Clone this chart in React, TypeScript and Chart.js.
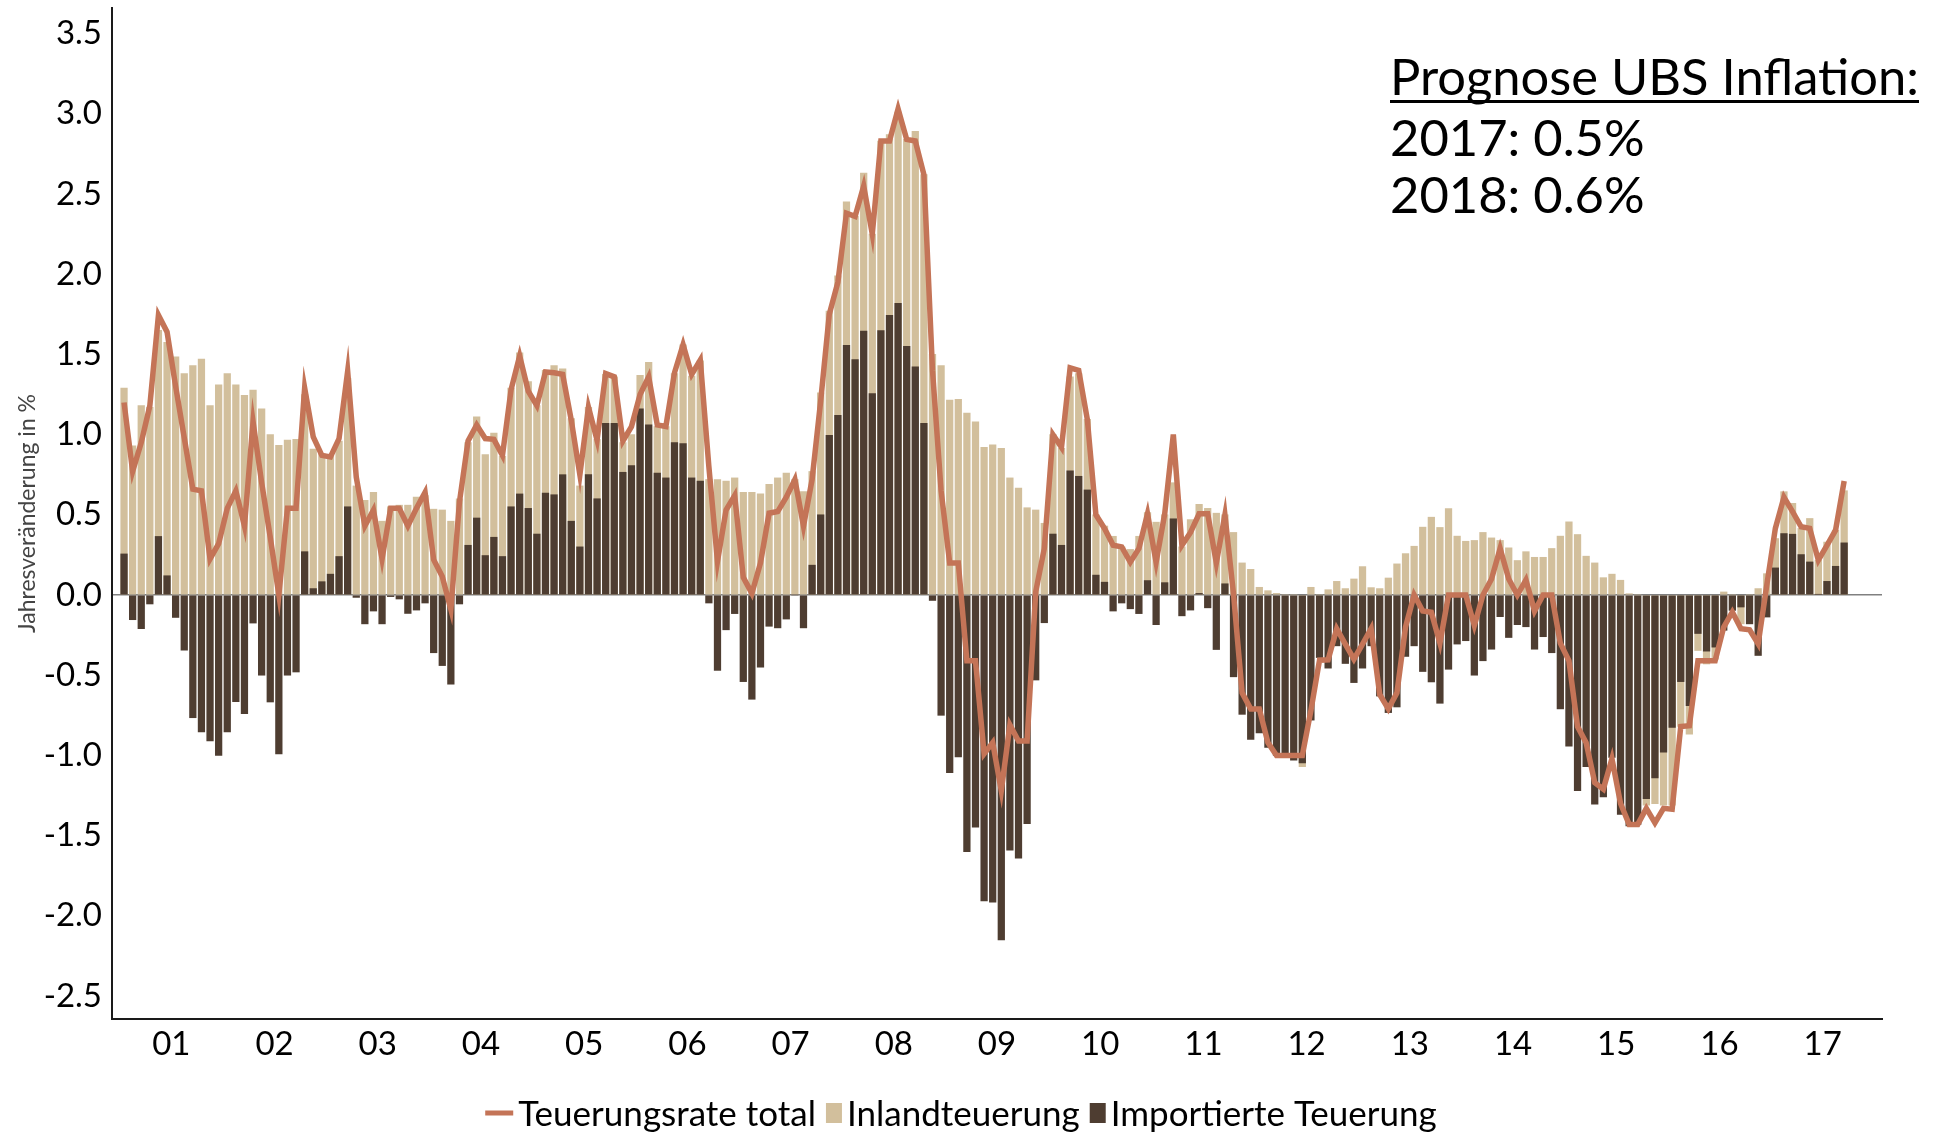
import React, { useEffect, useRef } from "react";
import { Chart, registerables } from "chart.js";

Chart.register(...registerables);

// ---------- data (monthly, Jan 2001 – Sep 2017) ----------
const yearLabels = ["01", "02", "03", "04", "05", "06", "07", "08", "09", "10", "11", "12", "13", "14", "15", "16", "17"];

const yTicks = [-2.5, -2.0, -1.5, -1.0, -0.5, 0.0, 0.5, 1.0, 1.5, 2.0, 2.5, 3.0, 3.5];

const totalRate = [
  1.2, 0.77, 0.95, 1.18, 1.745, 1.64, 1.3, 0.98, 0.66, 0.65, 0.225, 0.32,
  0.54, 0.65, 0.43, 1.08, 0.7, 0.36, 0.0, 0.54, 0.54, 1.29, 0.985, 0.87,
  0.86, 0.975, 1.395, 0.735, 0.43, 0.53, 0.225, 0.54, 0.54, 0.43, 0.54, 0.64,
  0.22, 0.115, -0.09, 0.58, 0.96, 1.06, 0.975, 0.97, 0.87, 1.28, 1.49, 1.27,
  1.18, 1.39, 1.385, 1.375, 1.09, 0.75, 1.17, 0.965, 1.38, 1.36, 0.96, 1.05,
  1.25, 1.36, 1.06, 1.05, 1.385, 1.56, 1.375, 1.465, 0.8, 0.21, 0.53, 0.62,
  0.11, 0.01, 0.2, 0.51, 0.52, 0.61, 0.72, 0.43, 0.72, 1.21, 1.75, 1.95,
  2.38, 2.36, 2.55, 2.25, 2.83, 2.83, 3.03, 2.84, 2.83, 2.62, 1.4, 0.65,
  0.2, 0.2, -0.41, -0.41, -0.99, -0.92, -1.22, -0.81, -0.91, -0.91, 0.02, 0.29,
  1.0, 0.92, 1.416, 1.4, 1.095, 0.5, 0.415, 0.31, 0.3, 0.205, 0.29, 0.506,
  0.204, 0.506, 1.0, 0.31, 0.39, 0.506, 0.506, 0.2, 0.5, 0.006, -0.61, -0.71,
  -0.71, -0.92, -1.0, -1.0, -1.0, -1.0, -0.72, -0.406, -0.404, -0.21, -0.306, -0.4,
  -0.306, -0.21, -0.62, -0.71, -0.61, -0.2, 0.0, -0.1, -0.108, -0.3, 0.0, 0.0,
  0.0, -0.19, 0.0, 0.1, 0.29, 0.1, 0.0, 0.094, -0.1, 0.0, 0.0, -0.3,
  -0.41, -0.82, -0.92, -1.17, -1.21, -1.02, -1.3, -1.43, -1.43, -1.33, -1.42, -1.33,
  -1.335, -0.82, -0.815, -0.41, -0.41, -0.41, -0.2, -0.106, -0.21, -0.217, -0.304, 0.06,
  0.415, 0.61, 0.52, 0.425, 0.415, 0.217, 0.31, 0.404, 0.71,
];

const inland = [
  1.29, 0.93, 1.18, 1.17, 1.65, 1.575, 1.485, 1.38, 1.43, 1.47, 1.18, 1.31,
  1.38, 1.31, 1.245, 1.277, 1.16, 1.0, 0.933, 0.965, 0.97, 1.25, 0.91, 0.88,
  0.87, 0.96, 1.35, 0.68, 0.59, 0.64, 0.46, 0.55, 0.56, 0.56, 0.61, 0.62,
  0.535, 0.53, 0.46, 0.6, 0.95, 1.11, 0.875, 1.01, 0.865, 1.29, 1.51, 1.33,
  1.18, 1.4, 1.43, 1.41, 1.1, 0.68, 1.17, 0.97, 1.375, 1.36, 0.95, 1.0,
  1.37, 1.45, 1.05, 1.05, 1.38, 1.56, 1.365, 1.46, 0.72, 0.72, 0.71, 0.73,
  0.64, 0.64, 0.63, 0.69, 0.73, 0.76, 0.72, 0.645, 0.77, 1.26, 1.77, 1.99,
  2.45, 2.36, 2.63, 2.25, 2.83, 2.87, 3.01, 2.84, 2.89, 2.62, 1.5, 1.43,
  1.215, 1.22, 1.134, 1.08, 0.92, 0.936, 0.915, 0.73, 0.667, 0.544, 0.53, 0.447,
  1.0, 0.915, 1.36, 1.38, 1.095, 0.5, 0.43, 0.366, 0.3, 0.284, 0.366, 0.514,
  0.454, 0.5, 0.7, 0.3, 0.47, 0.565, 0.54, 0.51, 0.5, 0.39, 0.2, 0.16,
  0.048, 0.027, 0.01, 0.0, 0.0, -1.07, 0.048, 0.0, 0.033, 0.085, 0.04, 0.1,
  0.177, 0.046, 0.04, 0.106, 0.194, 0.258, 0.304, 0.423, 0.485, 0.421, 0.538, 0.367,
  0.335, 0.34, 0.39, 0.356, 0.34, 0.294, 0.215, 0.27, 0.235, 0.235, 0.29, 0.367,
  0.456, 0.377, 0.242, 0.2, 0.108, 0.13, 0.092, 0.008, 0.0, -1.31, -1.3, -1.31,
  -1.31, -0.82, -0.867, -0.346, -0.43, -0.4, 0.019, 0.0, -0.18, 0.0, 0.04, 0.133,
  0.352, 0.644, 0.571, 0.415, 0.477, 0.217, 0.33, 0.404, 0.65,
];

const imported = [
  0.256, -0.154, -0.21, -0.056, 0.365, 0.12, -0.14, -0.344, -0.765, -0.854, -0.91, -1.0,
  -0.854, -0.665, -0.74, -0.175, -0.5, -0.667, -0.99, -0.5, -0.48, 0.27, 0.04, 0.083,
  0.13, 0.24, 0.55, -0.015, -0.18, -0.1, -0.18, -0.01, -0.025, -0.115, -0.094, -0.05,
  -0.36, -0.44, -0.556, -0.056, 0.31, 0.48, 0.246, 0.36, 0.24, 0.55, 0.63, 0.54,
  0.38, 0.635, 0.625, 0.75, 0.46, 0.3, 0.75, 0.6, 1.07, 1.07, 0.765, 0.806,
  1.16, 1.06, 0.76, 0.73, 0.95, 0.944, 0.73, 0.71, -0.05, -0.47, -0.217, -0.116,
  -0.54, -0.65, -0.45, -0.195, -0.205, -0.15, 0.0, -0.205, 0.186, 0.5, 0.995, 1.12,
  1.556, 1.467, 1.645, 1.256, 1.648, 1.743, 1.818, 1.55, 1.423, 1.07, -0.034, -0.75,
  -1.107, -1.01, -1.6, -1.447, -1.907, -1.914, -2.15, -1.59, -1.64, -1.426, -0.53, -0.173,
  0.38, 0.31, 0.774, 0.74, 0.655, 0.124, 0.08, -0.1, -0.05, -0.086, -0.116, 0.09,
  -0.185, 0.077, 0.475, -0.13, -0.094, 0.01, -0.08, -0.34, 0.07, -0.51, -0.744, -0.9,
  -0.86, -0.95, -1.0, -1.0, -1.03, -1.046, -0.78, -0.39, -0.456, -0.317, -0.427, -0.546,
  -0.456, -0.317, -0.63, -0.733, -0.698, -0.383, -0.317, -0.477, -0.542, -0.675, -0.463, -0.306,
  -0.285, -0.5, -0.41, -0.338, -0.135, -0.265, -0.185, -0.198, -0.338, -0.26, -0.36, -0.71,
  -0.942, -1.22, -1.07, -1.304, -1.258, -1.0125, -1.367, -1.44, -1.43, -1.27, -1.14, -0.98,
  -0.825, -0.54, -0.69, -0.24, -0.35, -0.325, -0.22, -0.096, -0.075, -0.18, -0.377, -0.1375,
  0.169, 0.383, 0.379, 0.252, 0.206, 0.004, 0.085, 0.179, 0.325,
];

const seriesNames = ["Teuerungsrate total", "Inlandteuerung", "Importierte Teuerung"];
const yTitle = "Jahresveränderung in %";
const forecastTitle = "Prognose UBS Inflation:";
const forecastLines = ["2017: 0.5%", "2018: 0.6%"];

// ---------- styling ----------
const W = 1945;
const H = 1134;
const LINE_COLOR = "#C47457";
const TAN = "#D2BF9C";
const DARK = "#4E3D31";
const FONT = "Lato";

const legendPlugin = {
  id: "bottomLegend",
  afterDraw(chart: any) {
    const ctx = chart.ctx;
    ctx.save();
    ctx.font = `35px ${FONT}`;
    ctx.textBaseline = "alphabetic";
    const baseline = 1126;
    const midY = 1113;
    const lineW = 28;
    const boxW = 16;
    const boxH = 20;
    const symGap = 5;
    const itemGap = 10;
    const symW = [lineW, boxW, boxW];
    const widths = seriesNames.map((s) => ctx.measureText(s).width);
    let total = 0;
    seriesNames.forEach((_, i) => {
      total += symW[i] + symGap + widths[i];
      if (i < seriesNames.length - 1) total += itemGap;
    });
    let x = 961 - total / 2;
    seriesNames.forEach((name, i) => {
      if (i === 0) {
        ctx.fillStyle = LINE_COLOR;
        ctx.fillRect(x, midY - 2.5, lineW, 5);
      } else {
        ctx.fillStyle = i === 1 ? TAN : DARK;
        ctx.fillRect(x, midY - boxH / 2, boxW, boxH);
      }
      x += symW[i] + symGap;
      ctx.fillStyle = "#000";
      ctx.fillText(name, x, baseline);
      x += widths[i] + itemGap;
    });
    ctx.restore();
  },
};

const forecastPlugin = {
  id: "forecastNote",
  afterDraw(chart: any) {
    const ctx = chart.ctx;
    ctx.save();
    const left = 1390;
    const targetW = 529;
    ctx.font = `52px ${FONT}`;
    const m = ctx.measureText(forecastTitle).width;
    const size = (52 * targetW) / m;
    ctx.font = `${size}px ${FONT}`;
    ctx.fillStyle = "#000";
    ctx.textBaseline = "alphabetic";
    ctx.fillText(forecastTitle, left, 95);
    ctx.fillRect(left, 100, targetW, 3);
    ctx.fillText(forecastLines[0], left, 156);
    ctx.fillText(forecastLines[1], left, 213);
    ctx.restore();
  },
};

export default function App() {
  const canvasRef = useRef<HTMLCanvasElement | null>(null);

  useEffect(() => {
    document.body.style.margin = "0";
    let chart: Chart | null = null;
    let cancelled = false;

    const build = () => {
      if (cancelled || !canvasRef.current) return;
      const totalPts = totalRate.map((v, i) => ({ x: i, y: v }));
      const inlandPts = inland.map((v, i) => ({ x: i, y: v }));
      const importedPts = imported.map((v, i) => ({ x: i, y: v }));

      chart = new Chart(canvasRef.current, {
        type: "bar",
        data: {
          datasets: [
            {
              type: "line",
              label: seriesNames[0],
              data: totalPts,
              borderColor: LINE_COLOR,
              backgroundColor: LINE_COLOR,
              borderWidth: 5.5,
              pointRadius: 0,
              tension: 0,
              fill: false,
              order: 0,
            } as any,
            {
              type: "bar",
              label: seriesNames[2],
              data: importedPts,
              backgroundColor: DARK,
              barThickness: 6.6,
              grouped: false,
              order: 1,
            } as any,
            {
              type: "bar",
              label: seriesNames[1],
              data: inlandPts,
              backgroundColor: TAN,
              barThickness: 6.6,
              grouped: false,
              order: 2,
            } as any,
          ],
        },
        options: {
          animation: false,
          responsive: false,
          devicePixelRatio: 1,
          layout: { padding: { top: 8, right: 63, bottom: 0, left: 0 } },
          plugins: {
            legend: { display: false },
            tooltip: { enabled: false },
          },
          scales: {
            x: {
              type: "linear",
              offset: false,
              min: -1.4,
              max: 204.4,
              grid: { display: false, drawTicks: false, offset: false },
              border: { display: true, color: "#1a1a1a", width: 2 },
              afterBuildTicks: (s: any) => {
                s.ticks = yearLabels.map((_, k) => ({ value: 5.5 + 12 * k }));
              },
              afterFit: (s: any) => {
                s.height = 115;
                s.paddingLeft = 0;
                s.paddingRight = 0;
              },
              ticks: {
                autoSkip: false,
                maxRotation: 0,
                padding: 6,
                color: "#000",
                font: { family: FONT, size: 33 },
                callback: (_v: any, idx: number) => yearLabels[idx],
              },
            },
            y: {
              type: "linear",
              min: -2.643,
              max: 3.659,
              afterBuildTicks: (s: any) => {
                s.ticks = yTicks.map((v) => ({ value: v }));
              },
              afterFit: (s: any) => {
                s.width = 112;
                s.paddingTop = 0;
                s.paddingBottom = 0;
              },
              grid: {
                drawTicks: false,
                color: (c: any) => (c.tick && c.tick.value === 0 ? "#808080" : "rgba(0,0,0,0)"),
                lineWidth: 1.5,
              },
              border: { display: true, color: "#1a1a1a", width: 2 },
              ticks: {
                padding: 10,
                color: "#000",
                font: { family: FONT, size: 33 },
                callback: (v: any) => Number(v).toFixed(1),
              },
              title: {
                display: true,
                text: yTitle,
                color: "#444",
                font: { family: FONT, size: 23 },
                padding: { top: 14, bottom: 0 },
              },
            },
          },
        } as any,
        plugins: [legendPlugin, forecastPlugin],
      });
    };

    const fonts: any = (document as any).fonts;
    if (fonts && fonts.load) {
      Promise.all([fonts.load(`33px ${FONT}`), fonts.load(`52px ${FONT}`)])
        .catch(() => undefined)
        .then(build);
    } else {
      build();
    }

    return () => {
      cancelled = true;
      if (chart) chart.destroy();
    };
  }, []);

  return (
    <div style={{ width: W, height: H, position: "relative", background: "#fff" }}>
      <canvas ref={canvasRef} width={W} height={H} style={{ width: W, height: H, display: "block" }} />
    </div>
  );
}
